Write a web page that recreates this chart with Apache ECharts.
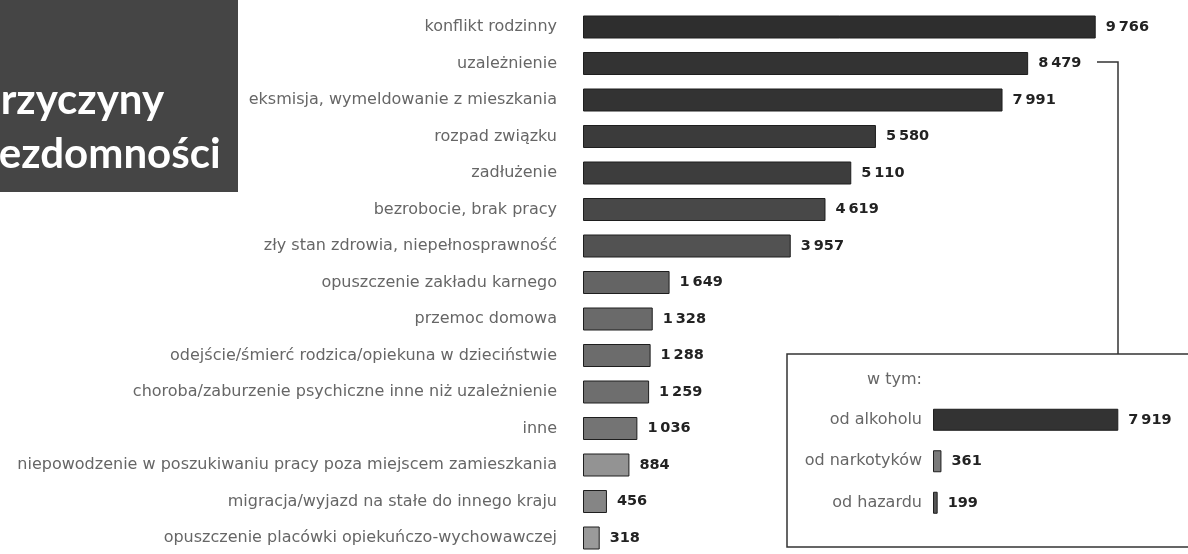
<!DOCTYPE html>
<html>
<head>
<meta charset="utf-8">
<script src="https://cdn.jsdelivr.net/npm/echarts@6/dist/echarts.min.js"></script>
<style>
  html, body { margin: 0; padding: 0; background: #fff; }
  #chart { width: 1188px; height: 554px; }
</style>
</head>
<body>
<div id="chart"></div>
<script>
'use strict'
// przyczyny bezdomności - dane
var categories = [
    'konflikt rodzinny',
    'uzależnienie',
    'eksmisja, wymeldowanie z mieszkania',
    'rozpad związku',
    'zadłużenie',
    'bezrobocie, brak pracy',
    'zły stan zdrowia, niepełnosprawność',
    'opuszczenie zakładu karnego',
    'przemoc domowa',
    'odejście/śmierć rodzica/opiekuna w dzieciństwie',
    'choroba/zaburzenie psychiczne inne niż uzależnienie',
    'inne',
    'niepowodzenie w poszukiwaniu pracy poza miejscem zamieszkania',
    'migracja/wyjazd na stałe do innego kraju',
    'opuszczenie placówki opiekuńczo-wychowawczej'
];
var values = [9766, 8479, 7991, 5580, 5110, 4619, 3957, 1649, 1328, 1288, 1259, 1036, 884, 456, 318];

// w tym: uzależnienie
var subCategories = ['od alkoholu', 'od narkotyków', 'od hazardu'];
var subValues = [7919, 361, 199];

var titleLines = ['Przyczyny', 'bezdomności'];
var subTitle = 'w tym:';

// odcienie słupków (od najciemniejszego)
var shades = ['#2e2e2e', '#333333', '#333333', '#3b3b3b', '#3d3d3d', '#484848', '#525252',
    '#646464', '#6a6a6a', '#6c6c6c', '#6e6e6e', '#747474', '#939393', '#858585', '#9a9a9a'];
var subShades = ['#333333', '#7a7a7a', '#555555'];

function fmt(v) {
    var s = String(v);
    if (s.length > 3) {
        s = s.slice(0, s.length - 3) + '\u2009' + s.slice(s.length - 3);
    }
    return s;
}

var chart = echarts.init(document.getElementById('chart'));
var labelFont = '"DejaVu Sans", sans-serif';
var valueLabel = {
    show: true, position: 'right', distance: 10,
    fontFamily: '"DejaVu Sans", sans-serif', fontWeight: 'bold', fontSize: 14.5, color: '#222',
    formatter: function (p) { return fmt(p.value); }
};
var option = {
    backgroundColor: '#ffffff',
    animation: false,
    grid: [
        { left: 583, top: 8.75, width: 525, height: 547.5, outerBoundsMode: 'none' },
        { left: 933, top: 399, width: 234, height: 124.5, outerBoundsMode: 'none' }
    ],
    xAxis: [
        { gridIndex: 0, type: 'value', min: 0, max: 10000, show: false },
        { gridIndex: 1, type: 'value', min: 0, max: 10000, show: false }
    ],
    yAxis: [
        {
            gridIndex: 0, type: 'category', inverse: true, data: categories,
            axisLine: { show: false }, axisTick: { show: false }, splitLine: { show: false },
            axisLabel: { margin: 26, fontSize: 16, color: '#666', fontFamily: labelFont }
        },
        {
            gridIndex: 1, type: 'category', inverse: true, data: subCategories,
            axisLine: { show: false }, axisTick: { show: false }, splitLine: { show: false },
            axisLabel: { margin: 11, fontSize: 16, color: '#666', fontFamily: labelFont }
        }
    ],
    series: [
        {
            type: 'bar', xAxisIndex: 0, yAxisIndex: 0, data: values, barWidth: 23,
            itemStyle: {
                color: function (p) { return shades[p.dataIndex]; },
                borderColor: '#1e1e1e', borderWidth: 1
            },
            label: valueLabel
        },
        {
            type: 'bar', xAxisIndex: 1, yAxisIndex: 1, data: subValues, barWidth: 22,
            itemStyle: {
                color: function (p) { return subShades[p.dataIndex]; },
                borderColor: '#1e1e1e', borderWidth: 1
            },
            label: valueLabel
        }
    ],
    graphic: [
        {
            type: 'rect', shape: { x: 0, y: 0, width: 238, height: 192 },
            style: { fill: '#454545' }, z: 10
        },
        {
            type: 'text', x: -25, y: 79, z: 11,
            style: { text: titleLines[0], fill: '#fff', font: 'bold 42px Lato, sans-serif', textVerticalAlign: 'alphabetic' }
        },
        {
            type: 'text', x: -25, y: 133, z: 11,
            style: { text: titleLines[1], fill: '#fff', font: 'bold 42px Lato, sans-serif', textVerticalAlign: 'alphabetic' }
        },
        {
            type: 'polyline', z: 5,
            shape: { points: [[1097, 62], [1118, 62], [1118, 354]] },
            style: { stroke: '#333', lineWidth: 1.5, fill: null }
        },
        {
            type: 'rect', z: 5,
            shape: { x: 787, y: 354, width: 420, height: 193 },
            style: { fill: null, stroke: '#333', lineWidth: 1.5 }
        },
        {
            type: 'text', x: 922, y: 380, z: 6,
            style: { text: subTitle, fill: '#666', font: '16px "DejaVu Sans", sans-serif', textAlign: 'right', textVerticalAlign: 'middle' }
        }
    ]
};
chart.setOption(option);
window.onresize = chart.resize;
</script>
</body>
</html>
